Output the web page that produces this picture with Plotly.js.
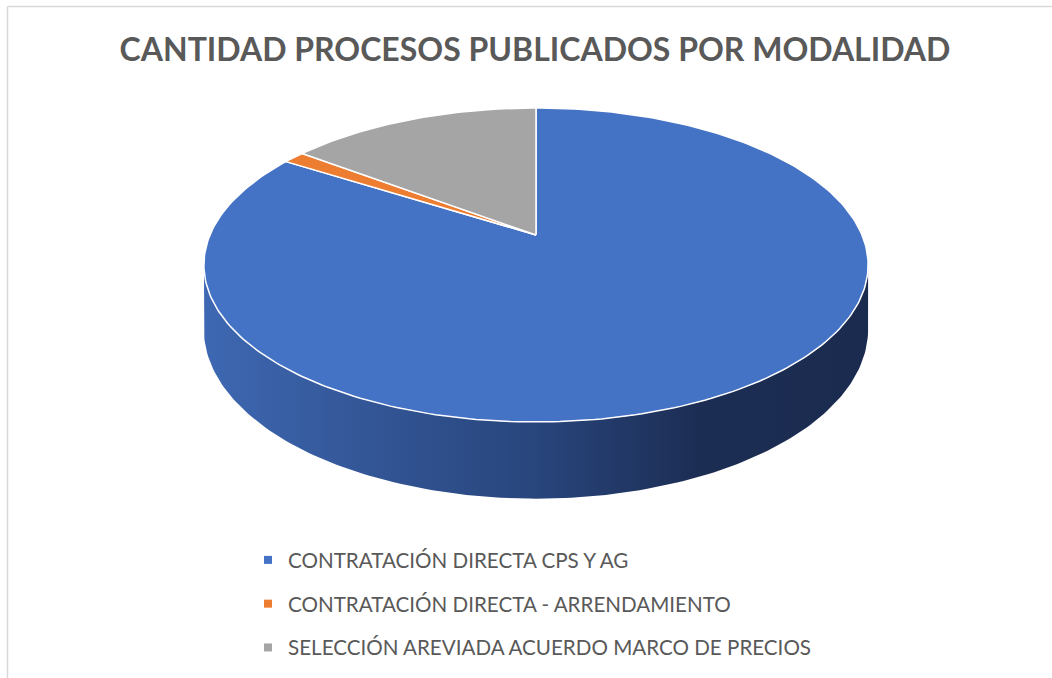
<!DOCTYPE html>
<html>
<head>
<meta charset="utf-8">
<script src="https://cdn.plot.ly/plotly-3.0.1.min.js"></script>
<style>html,body{margin:0;padding:0;background:#fff;}#chart{width:1052px;height:678px;}</style>
</head>
<body>
<div id="chart"></div>
<script>
// ---- data ----
const categories = [
  "CONTRATACIÓN DIRECTA CPS Y AG",
  "CONTRATACIÓN DIRECTA - ARRENDAMIENTO",
  "SELECCIÓN AREVIADA ACUERDO MARCO DE PRECIOS"
];
const values = [131, 2, 23];
const colors = ["#4472C4", "#ED7D31", "#A5A5A5"];
const titleText = "CANTIDAD PROCESOS PUBLICADOS POR MODALIDAD";

// ---- 3D pie geometry (layout constants, pixel space) ----
const W = 1052, Hh = 678;
const cx = 536, apexY = 235, A = 151.3, B = 326, k = 0.191, depth = 62;
function proj(deg, drop) {
  const t = deg * Math.PI / 180;
  const w = 1 + k * Math.cos(t);
  return [cx + B * Math.sin(t) / w, apexY - A * Math.cos(t) / w + (drop || 0) / w];
}

const total = values.reduce((a, b) => a + b, 0);
const traces = [];

// side wall (front, visible part)
const edgeDeg = Math.acos(-k) * 180 / Math.PI; // right silhouette angle
const sx = [], sy = [];
for (let d = edgeDeg; d <= 360 - edgeDeg + 1e-9; d += 1) { const p = proj(d, 0); sx.push(p[0]); sy.push(p[1]); }
for (let d = 360 - edgeDeg; d >= edgeDeg - 1e-9; d -= 1) { const p = proj(d, depth); sx.push(p[0]); sy.push(p[1]); }
traces.push({
  x: sx, y: sy, mode: "lines", fill: "toself", line: {width: 0},
  fillgradient: {type: "horizontal", colorscale: [[0, "#3e68b3"], [0.2, "#35599b"], [0.5, "#28457c"], [0.75, "#1c2d53"], [1, "#1b2b50"]]},
  showlegend: false, hoverinfo: "skip"
});

// top face slices (clockwise from 12 o'clock)
let start = 0;
values.forEach((v, i) => {
  const span = v / total * 360;
  const xs = [cx], ys = [apexY];
  const n = Math.max(2, Math.ceil(span));
  for (let j = 0; j <= n; j++) { const p = proj(start + span * j / n, 0); xs.push(p[0]); ys.push(p[1]); }
  xs.push(cx); ys.push(apexY);
  traces.push({
    x: xs, y: ys, mode: "lines", fill: "toself", fillcolor: colors[i],
    line: {color: "#ffffff", width: 1.5}, showlegend: false,
    name: categories[i], hoverinfo: "name"
  });
  start += span;
});

// legend entries
categories.forEach((c, i) => {
  traces.push({
    x: [null], y: [null], mode: "markers", name: c, legendgroup: "g" + i,
    marker: {symbol: "square", size: 8, color: colors[i]}
  });
});

const layout = {
  width: W, height: Hh,
  margin: {l: 0, r: 0, t: 0, b: 0},
  paper_bgcolor: "#ffffff", plot_bgcolor: "#ffffff",
  xaxis: {range: [0, W], visible: false, fixedrange: true},
  yaxis: {range: [Hh, 0], visible: false, fixedrange: true},
  title: {
    text: "<b>" + titleText + "</b>",
    x: 535 / W, xanchor: "center", y: 1 - 50 / Hh, yanchor: "middle",
    font: {family: "Lato, 'Open Sans', sans-serif", size: 32, color: "#595959"}
  },
  showlegend: true,
  legend: {
    x: 248 / W, xanchor: "left", y: 1 - 540 / Hh, yanchor: "top",
    orientation: "v", traceorder: "grouped", tracegroupgap: 14,
    font: {family: "Lato, 'Open Sans', sans-serif", size: 20.6, color: "#595959"},
    bgcolor: "rgba(0,0,0,0)"
  },
  shapes: [
    {type: "line", xref: "paper", yref: "paper", x0: 7.5 / W, x1: 1, y0: 1 - 6.5 / Hh, y1: 1 - 6.5 / Hh, line: {color: "#d9d9d9", width: 1.5}},
    {type: "line", xref: "paper", yref: "paper", x0: 7.5 / W, x1: 7.5 / W, y0: 0, y1: 1 - 6.5 / Hh, line: {color: "#d9d9d9", width: 1.5}}
  ]
};

Plotly.newPlot("chart", traces, layout, {displayModeBar: false, staticPlot: true});
</script>
</body>
</html>
